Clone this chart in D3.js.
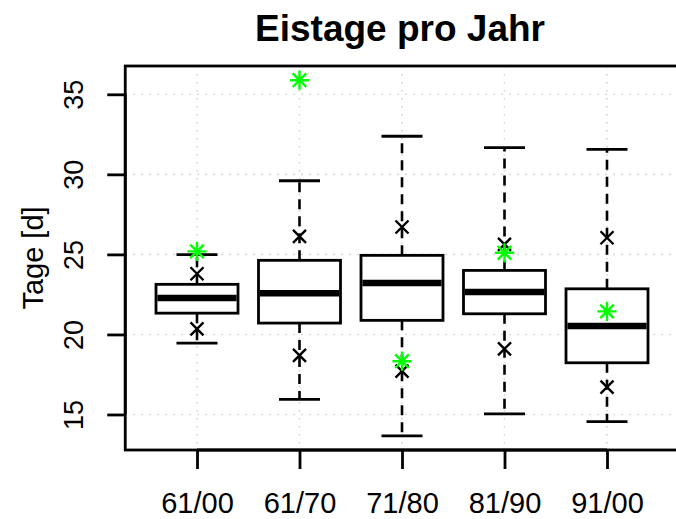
<!DOCTYPE html>
<html>
<head>
<meta charset="utf-8">
<script src="https://cdn.jsdelivr.net/npm/d3@7"></script>
<style>
  html, body { margin: 0; padding: 0; background: #fff; }
  svg { display: block; font-family: "Liberation Sans", Arial, Helvetica, sans-serif; }
</style>
</head>
<body>
<svg id="chart" width="676" height="519"></svg>
<script>
// ---- data ----
const categories = ["61/00", "61/70", "71/80", "81/90", "91/00"];
const whiskerLow  = [19.46, 15.94, 13.67, 15.04, 14.56];
const q1          = [21.33, 20.71, 20.88, 21.29, 18.23];
const median      = [22.27, 22.58, 23.21, 22.65, 20.52];
const q3          = [23.13, 24.63, 24.94, 24.00, 22.85];
const whiskerHigh = [24.98, 29.60, 32.38, 31.67, 31.56];
const crossLow    = [20.35, 18.69, 17.71, 19.10, 16.71];
const crossHigh   = [23.79, 26.13, 26.71, 25.63, 26.04];
const starValues  = [25.19, 35.88, 18.33, 25.10, 21.44];
const yTicks      = [15, 20, 25, 30, 35];
const title = "Eistage pro Jahr";
const yLabel = "Tage [d]";

// ---- layout ----
const svg = d3.select("#chart");
const plot = { left: 125.25, right: 678.75, top: 66, bottom: 450 };

const allVals = [].concat(whiskerLow, whiskerHigh, crossLow, crossHigh, starValues, q1, q3);
const [vmin, vmax] = d3.extent(allVals);
const pad = (vmax - vmin) * 0.04;

const x = d3.scaleLinear().domain([0.3, categories.length + 0.7]).range([plot.left, plot.right]);
const y = d3.scaleLinear().domain([vmin - pad, vmax + pad]).range([plot.bottom, plot.top]);

const idx = categories.map((d, i) => i);
const boxHalf = 0.4, capHalf = 0.2;

// grid
const grid = svg.append("g").attr("stroke", "#d3d3d3").attr("stroke-width", 1.6)
  .attr("stroke-dasharray", "1.6,6.4").attr("fill", "none");
grid.selectAll("line.h").data(yTicks).join("line")
  .attr("x1", plot.left).attr("x2", plot.right)
  .attr("y1", d => y(d)).attr("y2", d => y(d));
grid.selectAll("line.v").data(idx).join("line")
  .attr("x1", i => x(i + 1)).attr("x2", i => x(i + 1))
  .attr("y1", plot.top).attr("y2", plot.bottom);

// boxes
const g = svg.append("g").attr("stroke", "#000").attr("fill", "none");
// whiskers (dashed)
g.selectAll("line.wl").data(idx).join("line")
  .attr("stroke-width", 2.6).attr("stroke-dasharray", "10,7")
  .attr("x1", i => x(i + 1)).attr("x2", i => x(i + 1))
  .attr("y1", i => y(q1[i])).attr("y2", i => y(whiskerLow[i]));
g.selectAll("line.wh").data(idx).join("line")
  .attr("stroke-width", 2.6).attr("stroke-dasharray", "10,7")
  .attr("x1", i => x(i + 1)).attr("x2", i => x(i + 1))
  .attr("y1", i => y(q3[i])).attr("y2", i => y(whiskerHigh[i]));
// caps
g.selectAll("line.cl").data(idx).join("line")
  .attr("stroke-width", 2.8)
  .attr("x1", i => x(i + 1 - capHalf)).attr("x2", i => x(i + 1 + capHalf))
  .attr("y1", i => y(whiskerLow[i])).attr("y2", i => y(whiskerLow[i]));
g.selectAll("line.ch").data(idx).join("line")
  .attr("stroke-width", 2.8)
  .attr("x1", i => x(i + 1 - capHalf)).attr("x2", i => x(i + 1 + capHalf))
  .attr("y1", i => y(whiskerHigh[i])).attr("y2", i => y(whiskerHigh[i]));
// box
g.selectAll("rect.box").data(idx).join("rect")
  .attr("fill", "#fff").attr("stroke-width", 2.8)
  .attr("x", i => x(i + 1 - boxHalf)).attr("width", i => x(i + 1 + boxHalf) - x(i + 1 - boxHalf))
  .attr("y", i => y(q3[i])).attr("height", i => y(q1[i]) - y(q3[i]));
// median
g.selectAll("line.med").data(idx).join("line")
  .attr("stroke-width", 6.5)
  .attr("x1", i => x(i + 1 - boxHalf) + 1.4).attr("x2", i => x(i + 1 + boxHalf) - 1.4)
  .attr("y1", i => y(median[i])).attr("y2", i => y(median[i]));

// cross markers (pch 4)
const cr = 6.5;
function crossPath(cx, cy, r) {
  return `M${cx - r},${cy - r}L${cx + r},${cy + r}M${cx - r},${cy + r}L${cx + r},${cy - r}`;
}
const crosses = [];
idx.forEach(i => { crosses.push([i, crossLow[i]]); crosses.push([i, crossHigh[i]]); });
g.selectAll("path.cross").data(crosses).join("path")
  .attr("stroke-width", 2.4)
  .attr("d", d => crossPath(x(d[0] + 1), y(d[1]), cr));

// green stars (pch 8)
function starPath(cx, cy, r) {
  const p = r * Math.SQRT2;
  return crossPath(cx, cy, r) + `M${cx - p},${cy}L${cx + p},${cy}M${cx},${cy - p}L${cx},${cy + p}`;
}
svg.append("g").selectAll("path.star").data(idx).join("path")
  .attr("fill", "none").attr("stroke", "#00ff00").attr("stroke-width", 2.4)
  .attr("d", i => starPath(x(i + 1), y(starValues[i]), 6.8));

// frame
svg.append("rect")
  .attr("x", plot.left).attr("y", plot.top)
  .attr("width", plot.right - plot.left).attr("height", plot.bottom - plot.top)
  .attr("fill", "none").attr("stroke", "#000").attr("stroke-width", 2.8);

// x axis
const xAxis = d3.axisBottom(x).tickValues(idx.map(i => i + 1))
  .tickFormat(v => categories[v - 1]).tickSize(19).tickPadding(23);
const xa = svg.append("g").attr("transform", `translate(0,${plot.bottom})`).call(xAxis);
xa.select(".domain").attr("d", `M${x(1)},0H${x(categories.length)}`).attr("stroke-width", 2.8);
xa.selectAll(".tick line").attr("stroke-width", 2.8);
xa.selectAll(".tick text").attr("font-size", 29).attr("fill", "#000")
  .attr("font-family", "Liberation Sans, Arial, sans-serif");

// y axis
const yAxis = d3.axisLeft(y).tickValues(yTicks).tickSize(18).tickFormat(d3.format("d"));
const ya = svg.append("g").attr("transform", `translate(${plot.left},0)`).call(yAxis);
ya.select(".domain").attr("d", `M0,${y(yTicks[0])}V${y(yTicks[yTicks.length - 1])}`).attr("stroke-width", 2.8);
ya.selectAll(".tick line").attr("stroke-width", 2.8);
ya.selectAll(".tick text")
  .attr("font-size", 27).attr("fill", "#000")
  .attr("font-family", "Liberation Sans, Arial, sans-serif")
  .attr("x", null).attr("dy", null)
  .attr("text-anchor", "middle")
  .attr("transform", `translate(${83 - plot.left},0) rotate(-90)`);

// y label
svg.append("text")
  .attr("transform", `translate(43,${(plot.top + plot.bottom) / 2}) rotate(-90)`)
  .attr("text-anchor", "middle").attr("font-size", 29).attr("fill", "#000")
  .text(yLabel);

// title
svg.append("text")
  .attr("x", (plot.left + plot.right) / 2 - 2).attr("y", 41)
  .attr("text-anchor", "middle").attr("font-size", 37).attr("font-weight", "bold").attr("fill", "#000")
  .text(title);
</script>
</body>
</html>
